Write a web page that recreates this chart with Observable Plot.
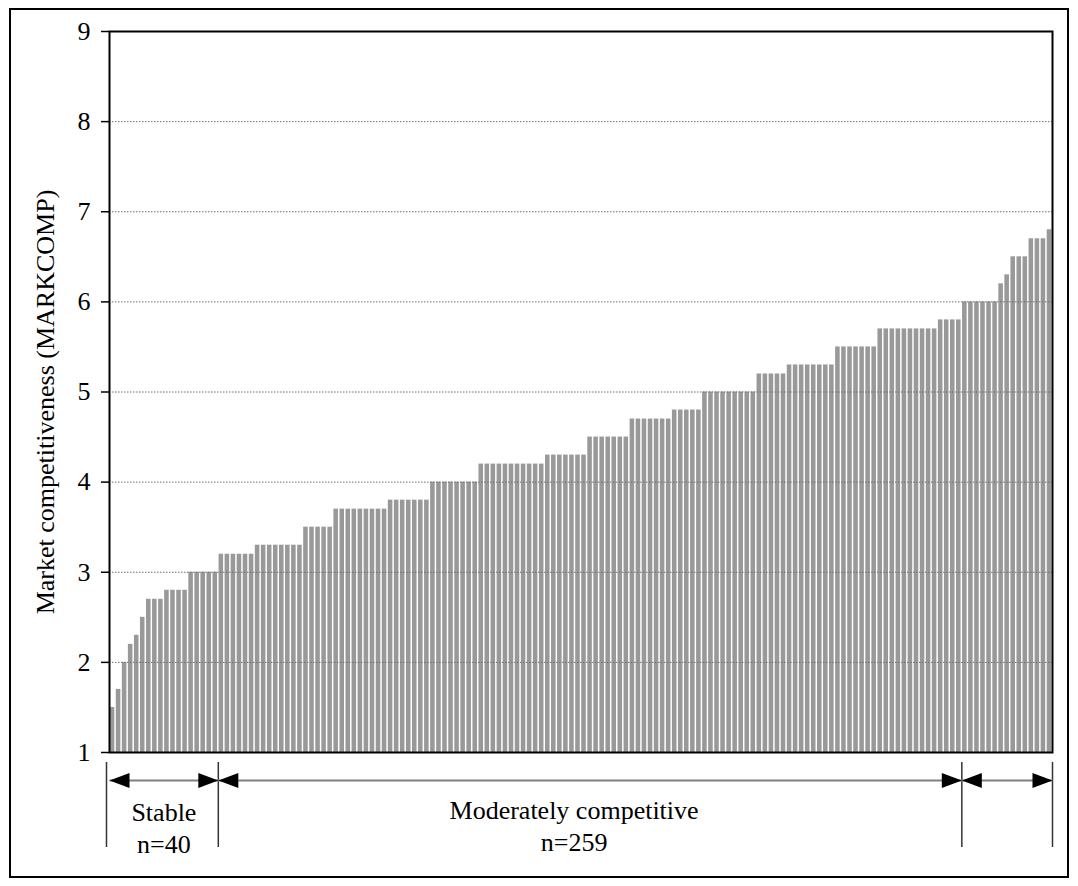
<!DOCTYPE html>
<html>
<head>
<meta charset="utf-8">
<script src="https://cdn.jsdelivr.net/npm/d3@7"></script>
<script src="https://cdn.jsdelivr.net/npm/@observablehq/plot@0.6"></script>
<style>
  body { margin: 0; background: #fff; }
  #wrap { position: relative; width: 1078px; height: 886px; }
  #border { position: absolute; left: 9px; top: 8px; width: 1060px; height: 870px; border: 2px solid #000; box-sizing: border-box; }
  #wrap svg { position: absolute; left: 0; top: 0; }
  #wrap svg text { font-family: 'Liberation Serif', 'Times New Roman', serif !important; }
</style>
</head>
<body>
<div id="wrap"><div id="border"></div></div>
<script>
// Market competitiveness per bar, sorted ascending
const markcomp = [
  // Stable
  1.5, 1.7, 2.0, 2.2, 2.3, 2.5, 2.7, 2.7, 2.7, 2.8, 2.8, 2.8, 2.8, 3.0, 3.0, 3.0, 3.0, 3.0,
  // Moderately competitive
  3.2, 3.2, 3.2, 3.2, 3.2, 3.2,
  3.3, 3.3, 3.3, 3.3, 3.3, 3.3, 3.3, 3.3,
  3.5, 3.5, 3.5, 3.5, 3.5,
  3.7, 3.7, 3.7, 3.7, 3.7, 3.7, 3.7, 3.7, 3.7,
  3.8, 3.8, 3.8, 3.8, 3.8, 3.8, 3.8,
  4.0, 4.0, 4.0, 4.0, 4.0, 4.0, 4.0, 4.0,
  4.2, 4.2, 4.2, 4.2, 4.2, 4.2, 4.2, 4.2, 4.2, 4.2, 4.2,
  4.3, 4.3, 4.3, 4.3, 4.3, 4.3, 4.3,
  4.5, 4.5, 4.5, 4.5, 4.5, 4.5, 4.5,
  4.7, 4.7, 4.7, 4.7, 4.7, 4.7, 4.7,
  4.8, 4.8, 4.8, 4.8, 4.8,
  5.0, 5.0, 5.0, 5.0, 5.0, 5.0, 5.0, 5.0, 5.0,
  5.2, 5.2, 5.2, 5.2, 5.2,
  5.3, 5.3, 5.3, 5.3, 5.3, 5.3, 5.3, 5.3,
  5.5, 5.5, 5.5, 5.5, 5.5, 5.5, 5.5,
  5.7, 5.7, 5.7, 5.7, 5.7, 5.7, 5.7, 5.7, 5.7, 5.7,
  5.8, 5.8, 5.8, 5.8,
  // Hypercompetitive
  6.0, 6.0, 6.0, 6.0, 6.0, 6.0, 6.2, 6.3, 6.5, 6.5, 6.5, 6.7, 6.7, 6.7, 6.8
];
const yTicks = [1, 2, 3, 4, 5, 6, 7, 8, 9];
const groupNames = ["Stable", "Moderately competitive", ""];
const groupN = [40, 259, null];
const groupBars = [18, 123, 15];
const yLabel = "Market competitiveness (MARKCOMP)";

const bars = markcomp.map((v, i) => ({i, v}));
const ends = Array.from(d3.cumsum(groupBars));
const starts = [0, ...ends.slice(0, -1)];
const groups = groupBars.map((n, k) => ({
  start: starts[k], end: ends[k], mid: (starts[k] + ends[k]) / 2,
  text: groupNames[k] ? groupNames[k] + "\nn=" + groupN[k] : ""
}));
const boundaries = [0, ...ends];
const yMin = yTicks[0], yMax = yTicks[yTicks.length - 1];

const headRight = {draw(ctx) { ctx.moveTo(0, 0); ctx.lineTo(-20, -7.5); ctx.lineTo(-20, 7.5); ctx.closePath(); }};
const headLeft  = {draw(ctx) { ctx.moveTo(0, 0); ctx.lineTo(20, -7.5); ctx.lineTo(20, 7.5); ctx.closePath(); }};

const font = "'Liberation Serif', 'Times New Roman', serif";
const textStyle = {fontSize: 26, fontFamily: font, fill: "#000"};

const chart = Plot.plot({
  width: 1078,
  height: 886,
  marginLeft: 109,
  marginRight: 26,
  marginTop: 31,
  marginBottom: 134,
  style: {fontFamily: font, fontSize: "26px", background: "transparent", color: "#000", overflow: "visible"},
  x: {domain: [0, markcomp.length], axis: null},
  y: {domain: [yMin, yMax], axis: null},
  marks: [
    Plot.rectY(bars, {x1: "i", x2: d => d.i + 1, y1: yMin, y2: "v", fill: "#999999", insetLeft: 0.75, insetRight: 0.75}),
    Plot.gridY(yTicks.slice(1), {stroke: "#6e6e6e", strokeOpacity: 1, strokeDasharray: "1.5,1.5", strokeWidth: 1}),
    Plot.frame({stroke: "#000", strokeWidth: 2}),
    Plot.axisY(yTicks, {tickSize: 8, tickPadding: 11, strokeWidth: 1.5, label: null, tickFormat: d => String(d), ...textStyle}),
    Plot.text([yLabel], {frameAnchor: "left", textAnchor: "middle", rotate: -90, dx: -64, dy: 10, ...textStyle}),
    // bracket lines below the bars
    Plot.ruleX([boundaries[0]], {x: d => d, y1: yMin, y2: yMin, insetTop: 10, insetBottom: -95, dx: -3, stroke: "#333", strokeWidth: 1.5}),
    Plot.ruleX(boundaries.slice(1), {x: d => d, y1: yMin, y2: yMin, insetTop: 10, insetBottom: -95, stroke: "#333", strokeWidth: 1.5}),
    Plot.link(groups, {x1: "start", x2: "end", y1: yMin, y2: yMin, dy: 28, stroke: "#808080", strokeWidth: 2}),
    Plot.dot(groups, {x: "start", y: yMin, dy: 28, symbol: headLeft, fill: "#000", stroke: "none"}),
    Plot.dot(groups, {x: "end", y: yMin, dy: 28, symbol: headRight, fill: "#000", stroke: "none"}),
    Plot.text([groups[0]], {x: "mid", y: yMin, text: "text", dy: 46, lineAnchor: "top", lineHeight: 1.23, ...textStyle}),
    Plot.text([groups[1]], {x: "mid", y: yMin, text: "text", dy: 44, dx: -16, lineAnchor: "top", lineHeight: 1.23, ...textStyle})
  ]
});
document.getElementById("wrap").appendChild(chart);
</script>
</body>
</html>
